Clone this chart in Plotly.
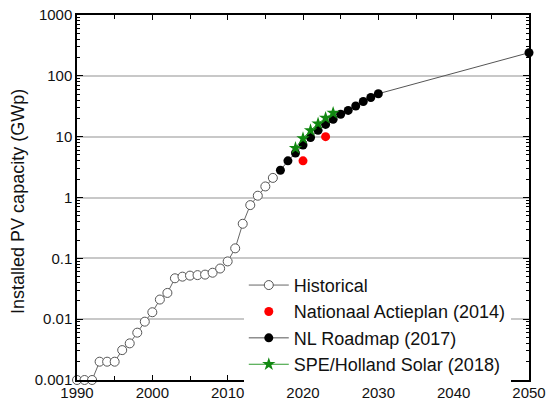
import plotly.graph_objects as go

# Historical installed PV capacity in the Netherlands (GWp)
hist_years = list(range(1990, 2017))
hist_gwp = [0.001, 0.001, 0.001, 0.002, 0.002, 0.002, 0.0031, 0.004, 0.006, 0.0091,
            0.013, 0.021, 0.027, 0.047, 0.050, 0.052, 0.053, 0.054, 0.058, 0.068,
            0.089, 0.146, 0.37, 0.75, 1.07, 1.52, 2.1]

# Nationaal Actieplan (2014)
nap_years = [2020, 2023]
nap_gwp = [4.0, 10.0]

# NL Roadmap (2017)
road_years = list(range(2017, 2031)) + [2050]
road_gwp = [2.8, 4.0, 5.4, 7.3, 9.7, 12.7, 15.9, 19.3, 23.4, 27.0, 31.9, 37.8, 44.0, 50.8, 240.0]

# SPE/Holland Solar (2018)
spe_years = [2019, 2020, 2021, 2022, 2023, 2024]
spe_gwp = [6.5, 9.4, 12.7, 16.4, 20.3, 24.5]

y_title = "Installed PV capacity (GWp)"

fig = go.Figure()

fig.add_trace(go.Scatter(
    x=hist_years, y=hist_gwp, name="Historical", mode="lines+markers",
    line=dict(color="#666666", width=1),
    marker=dict(symbol="circle", size=9, color="white", line=dict(color="#555555", width=1)),
    cliponaxis=False))

fig.add_trace(go.Scatter(
    x=nap_years, y=nap_gwp, name="Nationaal Actieplan (2014)", mode="markers",
    marker=dict(symbol="circle", size=9, color="#ff0000"),
    cliponaxis=False))

fig.add_trace(go.Scatter(
    x=road_years, y=road_gwp, name="NL Roadmap (2017)", mode="lines+markers",
    line=dict(color="#555555", width=1),
    marker=dict(symbol="circle", size=9, color="black"),
    cliponaxis=False))

fig.add_trace(go.Scatter(
    x=spe_years, y=spe_gwp, name="SPE/Holland Solar (2018)", mode="lines+markers",
    line=dict(color="#2e9a2e", width=1),
    marker=dict(symbol="star", size=10, color="#118811"),
    cliponaxis=False))

font = dict(family="Liberation Sans, Arial, sans-serif", size=15, color="#111111")

fig.update_layout(
    width=546, height=401,
    margin=dict(l=77, r=17, t=15, b=21),
    paper_bgcolor="white", plot_bgcolor="white",
    font=font,
    showlegend=True,
    legend=dict(x=0.369, y=0.31, xanchor="left", yanchor="top",
                bgcolor="white", borderwidth=0, font=dict(size=18),
                tracegroupgap=0, itemwidth=40),
)

# Vertical axis title placed as an annotation left of the tick labels
fig.add_annotation(
    text=y_title, textangle=-90, showarrow=False,
    xref="paper", yref="paper", x=-0.131, y=0.49,
    xanchor="center", yanchor="middle",
    font=dict(size=18, color="#111111"),
)

fig.update_xaxes(
    range=[1990, 2050], tickmode="linear", tick0=1990, dtick=10,
    showgrid=False, zeroline=False, automargin=False,
    showline=True, linecolor="black", linewidth=1.5, mirror="ticks",
    ticks="inside", ticklen=5, tickcolor="black", tickwidth=1.2,
    minor=dict(dtick=5, ticks="inside", ticklen=4, tickcolor="black", showgrid=False),
    tickfont=dict(size=15), ticklabelstandoff=-2,
)

fig.update_yaxes(
    type="log", range=[-3, 3],
    tickvals=[0.001, 0.01, 0.1, 1, 10, 100, 1000],
    ticktext=["0.001", "0.01", "0.1", "1", "10", "100", "1000"],
    showgrid=True, gridcolor="#c8c8c8", gridwidth=1.5,
    zeroline=False, automargin=False,
    showline=True, linecolor="black", linewidth=1.5, mirror="ticks",
    ticks="inside", ticklen=6, tickcolor="black", tickwidth=1.2,
    minor=dict(dtick="D1", ticks="inside", ticklen=3, tickcolor="black", showgrid=False),
    tickfont=dict(size=15),
)

fig.write_html("out.html")
